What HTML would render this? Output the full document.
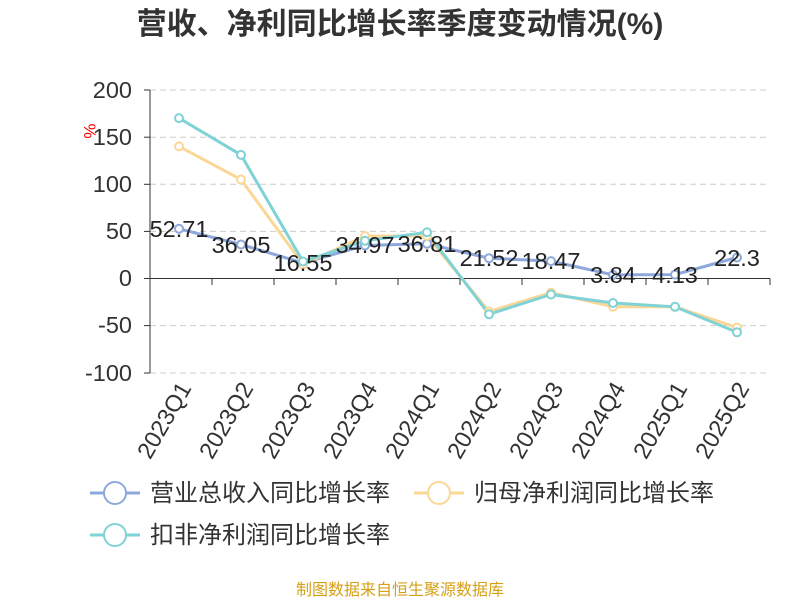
<!DOCTYPE html>
<html><head><meta charset="utf-8"><style>body{margin:0;background:#fff}</style></head><body>
<svg width="800" height="600" xmlns="http://www.w3.org/2000/svg" font-family="Liberation Sans, Noto Sans CJK SC, sans-serif">
<text x="400" y="34" text-anchor="middle" font-size="30" font-weight="bold" fill="#333">营收、净利同比增长率季度变动情况(%)</text>
<g stroke="#ccc" stroke-dasharray="6,4" stroke-width="1">
<line x1="150" y1="90" x2="768" y2="90"/><line x1="150" y1="137.2" x2="768" y2="137.2"/><line x1="150" y1="184.3" x2="768" y2="184.3"/><line x1="150" y1="231.4" x2="768" y2="231.4"/><line x1="150" y1="325.6" x2="768" y2="325.6"/><line x1="150" y1="373" x2="768" y2="373"/>
</g>
<line x1="150" y1="90" x2="150" y2="373" stroke="#333"/>
<line x1="150" y1="278.5" x2="770" y2="278.5" stroke="#333"/>
<g stroke="#333"><line x1="144" y1="90" x2="150" y2="90"/><line x1="144" y1="137.2" x2="150" y2="137.2"/><line x1="144" y1="184.3" x2="150" y2="184.3"/><line x1="144" y1="231.4" x2="150" y2="231.4"/><line x1="144" y1="278.5" x2="150" y2="278.5"/><line x1="144" y1="325.6" x2="150" y2="325.6"/><line x1="144" y1="373" x2="150" y2="373"/>
<line x1="212" y1="278.5" x2="212" y2="285"/><line x1="274" y1="278.5" x2="274" y2="285"/><line x1="336" y1="278.5" x2="336" y2="285"/><line x1="398" y1="278.5" x2="398" y2="285"/><line x1="460" y1="278.5" x2="460" y2="285"/><line x1="522" y1="278.5" x2="522" y2="285"/><line x1="584" y1="278.5" x2="584" y2="285"/><line x1="646" y1="278.5" x2="646" y2="285"/><line x1="708" y1="278.5" x2="708" y2="285"/><line x1="770" y1="278.5" x2="770" y2="285"/></g>
<g font-size="23.5" fill="#333" text-anchor="end">
<text x="132" y="98">200</text><text x="132" y="145">150</text><text x="132" y="192">100</text><text x="132" y="239">50</text><text x="132" y="286">0</text><text x="132" y="333">-50</text><text x="132" y="381">-100</text></g>
<text x="84" y="131" font-size="17" fill="red" transform="rotate(90 84 131)" text-anchor="middle">%</text>
<g font-size="23.5" fill="#333" text-anchor="end">
<text transform="translate(192,388) rotate(-60)">2023Q1</text><text transform="translate(254,388) rotate(-60)">2023Q2</text><text transform="translate(316,388) rotate(-60)">2023Q3</text><text transform="translate(378,388) rotate(-60)">2023Q4</text><text transform="translate(440,388) rotate(-60)">2024Q1</text><text transform="translate(502,388) rotate(-60)">2024Q2</text><text transform="translate(564,388) rotate(-60)">2024Q3</text><text transform="translate(626,388) rotate(-60)">2024Q4</text><text transform="translate(688,388) rotate(-60)">2025Q1</text><text transform="translate(750,388) rotate(-60)">2025Q2</text></g>
<g fill="none" stroke-width="3">
<polyline stroke="#8fa8dc" points="179,228.8 241,244.5 303,262.9 365,245.5 427,243.8 489,258.2 551,261.1 613,274.9 675,274.6 737,257.5"/>
<polyline stroke="#fad797" points="179,146.4 241,179.5 303,264.4 365,236 427,236 489,311.5 551,292.7 613,306.8 675,306.8 737,327.6"/>
<polyline stroke="#7fd2d6" points="179,118.1 241,154.9 303,261.5 365,240.8 427,232.3 489,314.3 551,294.5 613,303 675,306.8 737,332.3"/>
</g>
<g fill="#fff" stroke-width="2">
<g stroke="#8fa8dc"><circle cx="179" cy="228.8" r="4"/><circle cx="241" cy="244.5" r="4"/><circle cx="303" cy="262.9" r="4"/><circle cx="365" cy="245.5" r="4"/><circle cx="427" cy="243.8" r="4"/><circle cx="489" cy="258.2" r="4"/><circle cx="551" cy="261.1" r="4"/><circle cx="613" cy="274.9" r="4"/><circle cx="675" cy="274.6" r="4"/><circle cx="737" cy="257.5" r="4"/></g>
<g stroke="#fad797"><circle cx="179" cy="146.4" r="4"/><circle cx="241" cy="179.5" r="4"/><circle cx="303" cy="264.4" r="4"/><circle cx="365" cy="236" r="4"/><circle cx="427" cy="236" r="4"/><circle cx="489" cy="311.5" r="4"/><circle cx="551" cy="292.7" r="4"/><circle cx="613" cy="306.8" r="4"/><circle cx="675" cy="306.8" r="4"/><circle cx="737" cy="327.6" r="4"/></g>
<g stroke="#7fd2d6"><circle cx="179" cy="118.1" r="4"/><circle cx="241" cy="154.9" r="4"/><circle cx="303" cy="261.5" r="4"/><circle cx="365" cy="240.8" r="4"/><circle cx="427" cy="232.3" r="4"/><circle cx="489" cy="314.3" r="4"/><circle cx="551" cy="294.5" r="4"/><circle cx="613" cy="303" r="4"/><circle cx="675" cy="306.8" r="4"/><circle cx="737" cy="332.3" r="4"/></g>
</g>
<g font-size="23.5" fill="#222" text-anchor="middle">
<text x="179" y="237">52.71</text><text x="241" y="253">36.05</text><text x="303" y="271">16.55</text><text x="365" y="253">34.97</text><text x="427" y="252">36.81</text><text x="489" y="266">21.52</text><text x="551" y="269">18.47</text><text x="613" y="283">3.84</text><text x="675" y="283">4.13</text><text x="737" y="266">22.3</text></g>
<g font-size="24" fill="#333">
<line x1="90" y1="493" x2="140" y2="493" stroke="#8fa8dc" stroke-width="3"/><circle cx="115" cy="493" r="11" fill="#fff" stroke="#8fa8dc" stroke-width="2"/><text x="150" y="501">营业总收入同比增长率</text>
<line x1="414" y1="493" x2="464" y2="493" stroke="#fad797" stroke-width="3"/><circle cx="439" cy="493" r="11" fill="#fff" stroke="#fad797" stroke-width="2"/><text x="474" y="501">归母净利润同比增长率</text>
<line x1="90" y1="535" x2="140" y2="535" stroke="#7fd2d6" stroke-width="3"/><circle cx="115" cy="535" r="11" fill="#fff" stroke="#7fd2d6" stroke-width="2"/><text x="150" y="543">扣非净利润同比增长率</text>
</g>
<text x="400" y="595" font-size="16" fill="#d4a017" text-anchor="middle">制图数据来自恒生聚源数据库</text>
</svg>
</body></html>
